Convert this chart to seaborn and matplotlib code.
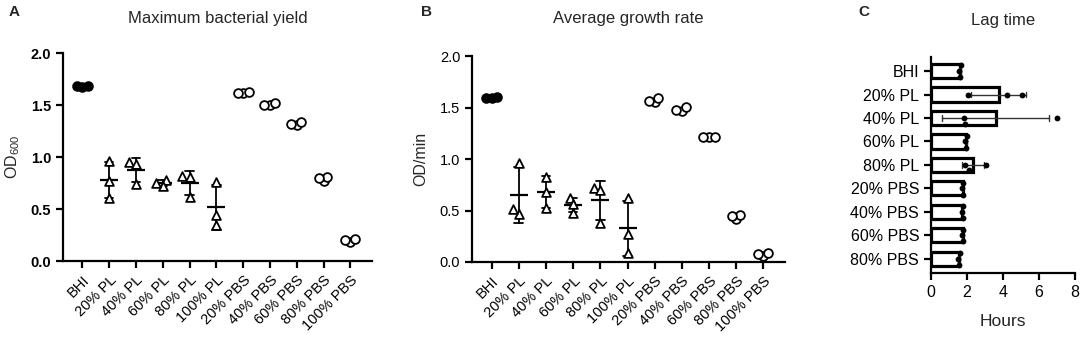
import numpy as np
import pandas as pd
import matplotlib
matplotlib.use("Agg")
import matplotlib.pyplot as plt
import seaborn as sns

# ---------------- data ----------------
categories = ["BHI", "20% PL", "40% PL", "60% PL", "80% PL", "100% PL",
              "20% PBS", "40% PBS", "60% PBS", "80% PBS", "100% PBS"]
groups = ["BHI", "PL", "PL", "PL", "PL", "PL", "PBS", "PBS", "PBS", "PBS", "PBS"]

yield_reps = [
    [1.67, 1.68, 1.68],
    [0.96, 0.77, 0.61],
    [0.95, 0.93, 0.74],
    [0.78, 0.72, 0.75],
    [0.82, 0.81, 0.62],
    [0.76, 0.44, 0.35],
    [1.62, 1.63, 1.62],
    [1.50, 1.52, 1.50],
    [1.31, 1.34, 1.32],
    [0.77, 0.81, 0.80],
    [0.18, 0.21, 0.20],
]

rate_reps = [
    [1.59, 1.60, 1.59],
    [0.96, 0.47, 0.51],
    [0.83, 0.68, 0.52],
    [0.62, 0.48, 0.56],
    [0.72, 0.70, 0.38],
    [0.62, 0.27, 0.09],
    [1.55, 1.59, 1.56],
    [1.47, 1.51, 1.48],
    [1.21, 1.21, 1.21],
    [0.42, 0.46, 0.45],
    [0.06, 0.09, 0.08],
]

lag_categories = ["BHI", "20% PL", "40% PL", "60% PL", "80% PL",
                  "20% PBS", "40% PBS", "60% PBS", "80% PBS"]
lag_reps = [
    [1.55, 1.60, 1.65],
    [2.07, 4.20, 5.04],
    [1.85, 1.90, 7.00],
    [1.88, 1.92, 1.98],
    [1.90, 2.10, 3.05],
    [1.72, 1.75, 1.80],
    [1.70, 1.75, 1.78],
    [1.70, 1.75, 1.80],
    [1.50, 1.55, 1.60],
]

y_ticks = [0.0, 0.5, 1.0, 1.5, 2.0]
lag_ticks = [0, 2, 4, 6, 8]


def long_df(cats, reps, grp=None):
    rows = []
    for i, (c, vals) in enumerate(zip(cats, reps)):
        for v in vals:
            rows.append({"cat": c, "val": v, "grp": grp[i] if grp else ""})
    return pd.DataFrame(rows)


df_yield = long_df(categories, yield_reps, groups)
df_rate = long_df(categories, rate_reps, groups)
df_lag = long_df(lag_categories, lag_reps)

# ---------------- style ----------------
sns.set_style("ticks")
plt.rcParams["font.family"] = ["Liberation Sans", "DejaVu Sans"]
plt.rcParams["mathtext.default"] = "regular"
plt.rcParams["axes.linewidth"] = 1.6
plt.rcParams["xtick.major.width"] = 1.6
plt.rcParams["ytick.major.width"] = 1.6
plt.rcParams["xtick.major.size"] = 5
plt.rcParams["ytick.major.size"] = 5
plt.rcParams["xtick.color"] = "black"
plt.rcParams["ytick.color"] = "black"
plt.rcParams["axes.edgecolor"] = "black"

fig = plt.figure(figsize=(10.84, 3.37), dpi=100)
axA = fig.add_axes([0.0581, 0.2255, 0.285, 0.617])
axB = fig.add_axes([0.4354, 0.2226, 0.289, 0.611])
axC = fig.add_axes([0.8589, 0.190, 0.1328, 0.641])

swarm_colls = []


def dot_panel(ax, df, bold):
    pl = df[df["grp"] == "PL"]
    sns.pointplot(data=pl, x="cat", y="val", order=categories, errorbar="sd",
                  capsize=0.32, linestyle="none", marker="_", markersize=13,
                  markeredgewidth=1.6, color="black",
                  err_kws={"linewidth": 1.3}, ax=ax, zorder=2)
    styles = {"BHI": ("o", "black", 2.6), "PL": ("^", "white", 3.6),
              "PBS": ("o", "white", 2.6)}
    for g, (m, fc, lay) in styles.items():
        sub = df[df["grp"] == g]
        n0 = len(ax.collections)
        sns.swarmplot(data=sub, x="cat", y="val", order=categories, marker=m,
                      color=fc, edgecolor="black", linewidth=1.3, size=lay,
                      ax=ax, zorder=3)
        swarm_colls.extend(ax.collections[n0:])
    ax.set_xlim(-0.72, 10.8)
    ax.set_ylim(0, 2.0)
    ax.set_yticks(y_ticks)
    ax.set_yticklabels([f"{t:.1f}" for t in y_ticks], fontsize=10.5,
                       fontweight="bold" if bold else "normal")
    ax.set_xticks(range(len(categories)))
    ax.set_xticklabels(categories, rotation=45, ha="right",
                       rotation_mode="anchor", fontsize=10.5)
    ax.set_xlabel("")
    sns.despine(ax=ax)


dot_panel(axA, df_yield, True)
axA.set_ylabel(r"OD$_{600}$", fontsize=11.5, labelpad=6)
dot_panel(axB, df_rate, False)
axB.set_ylabel("OD/min", fontsize=11.5, labelpad=8)

# Panel C
sns.barplot(data=df_lag, y="cat", x="val", order=lag_categories, orient="h",
            errorbar="sd", color="white", edgecolor="black", linewidth=2.3,
            width=0.6, capsize=0.25,
            err_kws={"linewidth": 1.0, "color": "#333333"}, ax=axC)
sns.swarmplot(data=df_lag, y="cat", x="val", order=lag_categories, orient="h",
              color="black", size=4.2, ax=axC, zorder=3)
axC.set_xlim(0, 8)
axC.set_ylim(8.6, -0.6)
axC.set_xticks(lag_ticks)
axC.set_xticklabels([str(t) for t in lag_ticks], fontsize=11.5)
axC.set_yticklabels(lag_categories, fontsize=11.5)
axC.set_ylabel("")
axC.set_xlabel("Hours", fontsize=12.5, labelpad=10)
sns.despine(ax=axC)

# titles & panel letters
for ax, title, ytop in [(axA, "Maximum bacterial yield", 18),
                        (axB, "Average growth rate", 18),
                        (axC, "Lag time", 20)]:
    p = ax.get_position()
    fig.text((p.x0 + p.x1) / 2, 1 - ytop / 337, title, ha="center",
             va="center", fontsize=12)
for letter, x in [("A", 14), ("B", 427), ("C", 864)]:
    fig.text(x / 1084, 1 - 12 / 337, letter, ha="center", va="center",
             fontsize=11, fontweight="bold")

# lay out the swarms with a tight spacing, then freeze and enlarge markers
fig.canvas.draw()
for coll in swarm_colls:
    if "draw" in coll.__dict__:
        del coll.draw
    coll.set_sizes([6.3 ** 2])

fig.savefig("out.png", dpi=100)
